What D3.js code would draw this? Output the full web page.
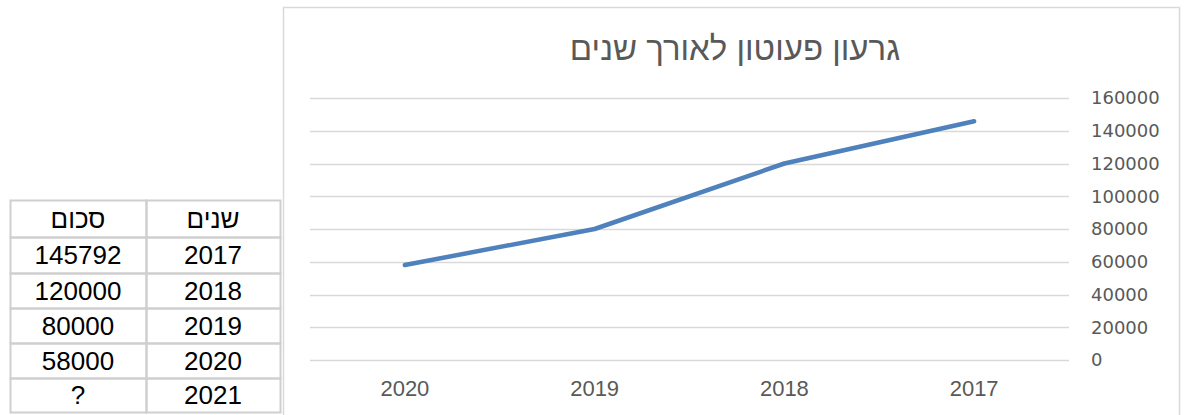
<!DOCTYPE html>
<html>
<head>
<meta charset="utf-8">
<script src="https://cdn.jsdelivr.net/npm/d3@7"></script>
<style>
  body { margin: 0; background: #fff; }
  svg { font-family: "Liberation Sans", Arial, sans-serif; }
</style>
</head>
<body>
<div id="chart"></div>
<script>
var width = 1188,
    height = 415;

// table data
var tableHead = ["שנים", "סכום"];
var tableYears = ["2017", "2018", "2019", "2020", "2021"];
var tableSums = ["145792", "120000", "80000", "58000", "?"];

// chart data (x axis in reverse order, as in the sheet)
var years = ["2020", "2019", "2018", "2017"];
var values = [58000, 80000, 120000, 145792];
var yTicks = [0, 20000, 40000, 60000, 80000, 100000, 120000, 140000, 160000];
var title = "גרעון פעוטון לאורך שנים";

var svg = d3.select("#chart")
    .append("svg")
    .attr("width", width)
    .attr("height", height);

// ---- table ----
var tLeft = 10, tTop = 200, colW = [136, 134], rowH = [37, 36, 35, 35, 35, 34];
var rows = [tableHead].concat(tableYears.map(function(y, i) { return [y, tableSums[i]]; }));
var tg = svg.append("g").attr("class", "table");
var yy = tTop;
rows.forEach(function(r, i) {
  // right-to-left: first value in the right column
  var cells = [{t: r[1], x: tLeft, w: colW[0]}, {t: r[0], x: tLeft + colW[0], w: colW[1]}];
  cells.forEach(function(c) {
    tg.append("rect")
      .attr("x", c.x + 0.5).attr("y", yy + 0.5)
      .attr("width", c.w).attr("height", rowH[i])
      .attr("fill", "none")
      .attr("stroke", "#cfcfcf")
      .attr("stroke-width", 2);
    tg.append("text")
      .attr("x", c.x + c.w / 2)
      .attr("y", yy + rowH[i] / 2 + 9)
      .attr("text-anchor", "middle")
      .attr("font-size", 26)
      .attr("fill", "#000")
      .text(c.t);
  });
  yy += rowH[i];
});

// ---- chart frame ----
svg.append("rect")
  .attr("x", 283.5).attr("y", 7.5)
  .attr("width", 896).attr("height", 420)
  .attr("fill", "#fff")
  .attr("stroke", "#d9d9d9")
  .attr("stroke-width", 1.5);

var plot = {left: 310, right: 1069, top: 98, bottom: 360};

var x = d3.scaleBand()
  .domain(years)
  .range([plot.left, plot.right]);

var y = d3.scaleLinear()
  .domain([0, 160000])
  .range([plot.bottom, plot.top]);

// gridlines
svg.append("g")
  .selectAll("line")
  .data(yTicks)
  .enter().append("line")
  .attr("x1", plot.left).attr("x2", plot.right)
  .attr("y1", function(d) { return Math.round(y(d)) + 0.5; })
  .attr("y2", function(d) { return Math.round(y(d)) + 0.5; })
  .attr("stroke", "#d9d9d9")
  .attr("stroke-width", 1.5);

// y axis on the right
var yAxis = svg.append("g")
  .attr("transform", "translate(" + (plot.right + 22) + ",0)")
  .call(d3.axisRight(y).tickValues(yTicks).tickSize(0).tickPadding(0).tickFormat(d3.format("d")));
yAxis.select(".domain").remove();
yAxis.selectAll("text")
  .attr("font-family", "DejaVu Sans, sans-serif")
  .attr("font-size", 18)
  .attr("fill", "#595959");

// x axis
var xAxis = svg.append("g")
  .attr("transform", "translate(0," + plot.bottom + ")")
  .call(d3.axisBottom(x).tickSize(0).tickPadding(20));
xAxis.select(".domain").remove();
xAxis.selectAll("text")
  .attr("font-family", "Liberation Sans, Arial, sans-serif")
  .attr("font-size", 22)
  .attr("fill", "#595959");

// line
var line = d3.line()
  .x(function(d, i) { return x(years[i]) + x.bandwidth() / 2; })
  .y(function(d) { return y(d); });

svg.append("path")
  .datum(values)
  .attr("d", line)
  .attr("fill", "none")
  .attr("stroke", "#4f81bd")
  .attr("stroke-width", 4.5)
  .attr("stroke-linecap", "round")
  .attr("stroke-linejoin", "round");

// title
svg.append("text")
  .attr("x", 735)
  .attr("y", 60)
  .attr("text-anchor", "middle")
  .attr("font-size", 33)
  .attr("fill", "#595959")
  .text(title);
</script>
</body>
</html>
